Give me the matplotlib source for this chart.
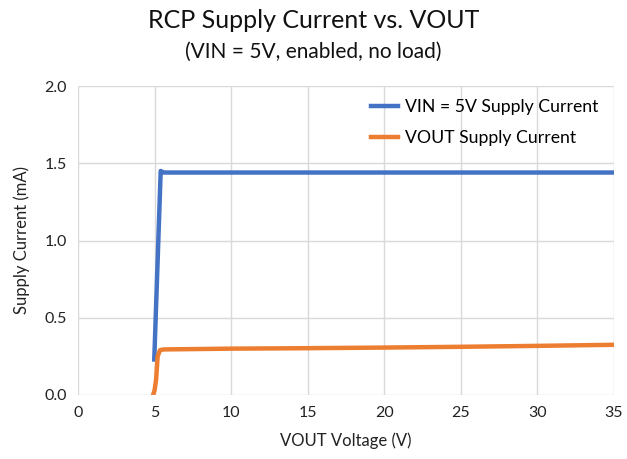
import matplotlib.pyplot as plt

plt.rcParams['font.family'] = ['Lato', 'DejaVu Sans']

vin_x = [4.98, 5.40, 5.6, 10, 15, 20, 25, 30, 35]
vin_y = [0.23, 1.45, 1.44, 1.44, 1.44, 1.44, 1.44, 1.44, 1.44]

vout_x = [4.9, 5.0, 5.1, 5.2, 5.35, 5.6, 10, 15, 20, 25, 30, 35]
vout_y = [0.0, 0.03, 0.10, 0.25, 0.29, 0.295, 0.30, 0.303, 0.307, 0.312, 0.318, 0.325]

fig = plt.figure(figsize=(6.27, 4.59), dpi=100)
ax = fig.add_axes([78/627, 1-395/459, (614-78)/627, (395-86)/459])

ax.plot(vin_x, vin_y, color='#4472C4', lw=3.2, label='VIN = 5V Supply Current', solid_joinstyle='round')
ax.plot(vout_x, vout_y, color='#ED7D31', lw=3.2, label='VOUT Supply Current', solid_joinstyle='round')

ax.set_xlim(0, 35)
ax.set_ylim(0, 2.0)
ax.set_xticks(range(0, 36, 5))
ax.set_yticks([0, 0.5, 1.0, 1.5, 2.0])
ax.set_yticklabels(['0.0', '0.5', '1.0', '1.5', '2.0'])
ax.grid(True, color='#D9D9D9', lw=1)
ax.set_axisbelow(True)
for s in ax.spines.values():
    s.set_visible(False)
ax.tick_params(length=0, labelsize=11.5, colors='#222222', pad=8)

ax.set_xlabel('VOUT Voltage (V)', fontsize=12, color='#222222', labelpad=9)
ax.set_ylabel('Supply Current (mA)', fontsize=12, color='#222222', labelpad=10)

fig.text(0.5, 1-20/459, 'RCP Supply Current vs. VOUT', ha='center', va='center', fontsize=18, color='#111111')
fig.text(0.5, 1-52/459, '(VIN = 5V, enabled, no load)', ha='center', va='center', fontsize=15, color='#111111')

leg = ax.legend(loc='upper right', bbox_to_anchor=(1.0, 1.01), frameon=False, fontsize=12.7,
                handlelength=1.5, handletextpad=0.4, labelspacing=0.85)

fig.savefig('out.png', dpi=100)
